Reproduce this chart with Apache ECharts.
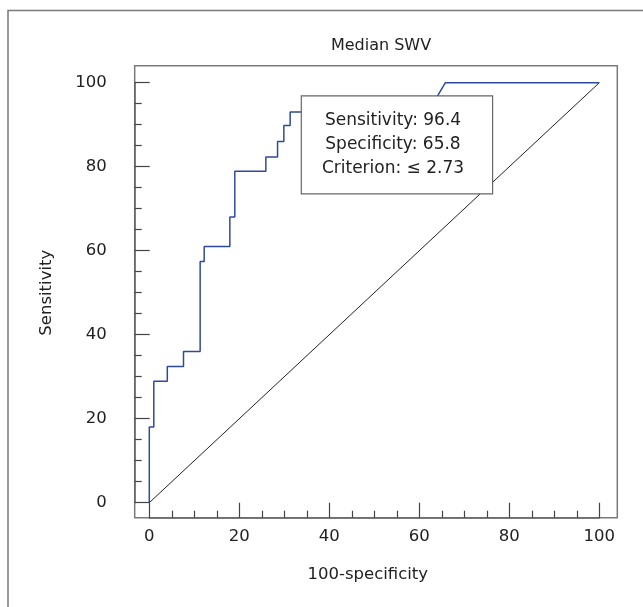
<!DOCTYPE html>
<html>
<head>
<meta charset="utf-8">
<script src="https://cdn.jsdelivr.net/npm/echarts@6/dist/echarts.min.js"></script>
<style>
  html, body { margin: 0; padding: 0; background: #fff; }
  #roc { width: 643px; height: 607px; }
</style>
</head>
<body>
<div id="roc"></div>
<script>
// ROC curve, median SWV
var fprPts  = [0, 0, 1.0, 1.0, 4.0, 4.0, 7.6, 7.6, 11.3, 11.3, 12.2, 12.2, 17.9, 17.9, 19.0, 19.0, 25.9, 25.9, 28.5, 28.5, 29.9, 29.9, 31.3, 31.3, 34.2, 34.2, 63.8, 65.8, 100];
var sensPts = [0, 18.0, 18.0, 28.9, 28.9, 32.4, 32.4, 36.0, 36.0, 57.4, 57.4, 61.0, 61.0, 68.0, 68.0, 78.9, 78.9, 82.3, 82.3, 86.0, 86.0, 89.8, 89.8, 93.0, 93.0, 96.4, 96.4, 100, 100];
var diagX = [0, 100];
var diagY = [0, 100];
var boxLines = ['Sensitivity: 96.4', 'Specificity: 65.8', 'Criterion: \u2264 2.73'];

var font = '"DejaVu Sans", sans-serif';

var curve = fprPts.map(function (x, i) { return [x, sensPts[i]]; });
var diag = diagX.map(function (x, i) { return [x, diagY[i]]; });

var chart = echarts.init(document.getElementById('roc'));

var axisCommon = {
  axisLine: { show: true, onZero: false, lineStyle: { color: '#666', width: 1.5 } },
  axisTick: { show: true, inside: true, length: 15, lineStyle: { color: '#444', width: 1.2 } },
  minorTick: { show: true, splitNumber: 4, length: 7, lineStyle: { color: '#444', width: 1.2 } },
  splitLine: { show: false }
};

var option = {
  backgroundColor: '#fff',
  animation: false,
  title: {
    text: 'Median SWV',
    left: 376,
    top: 33,
    textAlign: 'center',
    textStyle: { fontFamily: font, fontSize: 16, fontWeight: 'normal', color: '#222' }
  },
  grid: [
    // frame
    { left: 134.7, top: 65.7, right: 25.7, bottom: 89.3, show: true, borderColor: '#7a7a7a', borderWidth: 1.5, backgroundColor: 'transparent' },
    // data area
    { left: 149.3, top: 82.7, right: 43.7, bottom: 104.3 }
  ],
  xAxis: [
    { gridIndex: 0, type: 'value', show: false, min: 0, max: 1 },
    Object.assign({
      gridIndex: 1, type: 'value', min: 0, max: 100, interval: 20,
      position: 'bottom', offset: 15,
      name: '100-specificity', nameLocation: 'middle', nameGap: 49,
      nameTextStyle: { fontFamily: font, fontSize: 16.5, color: '#222', padding: [0, 13, 0, 0] },
      axisLabel: { margin: 11, fontFamily: font, fontSize: 16.5, color: '#222' }
    }, axisCommon)
  ],
  yAxis: [
    { gridIndex: 0, type: 'value', show: false, min: 0, max: 1 },
    Object.assign({
      gridIndex: 1, type: 'value', min: 0, max: 100, interval: 20,
      position: 'left', offset: 14.6,
      name: 'Sensitivity', nameLocation: 'middle', nameGap: 79,
      nameTextStyle: { fontFamily: font, fontSize: 16.5, color: '#222' },
      axisLabel: { margin: 28, fontFamily: font, fontSize: 16.5, color: '#222' }
    }, axisCommon)
  ],
  series: [
    {
      name: 'reference', type: 'line', xAxisIndex: 1, yAxisIndex: 1,
      data: diag, showSymbol: false, symbol: 'none',
      lineStyle: { color: '#222', width: 1 }, z: 2
    },
    {
      name: 'ROC', type: 'line', xAxisIndex: 1, yAxisIndex: 1,
      data: curve, showSymbol: false, symbol: 'none',
      lineStyle: { color: '#2f4a9c', width: 1.5 }, z: 3
    }
  ],
  graphic: [
    {
      type: 'polyline', silent: true, z: 1,
      shape: { points: [[8, 607], [8, 10.5], [643, 10.5]] },
      style: { stroke: '#7a7a7a', lineWidth: 1.5, fill: null }
    },
    {
      type: 'rect', left: 300.7, top: 95.3, z: 100,
      shape: { width: 191.3, height: 98 },
      style: { fill: '#fff', stroke: '#666', lineWidth: 1.2 }
    },
    {
      type: 'text', x: 393, y: 144.5, z: 101,
      style: {
        text: boxLines.join('\n'),
        font: '17px ' + font,
        fill: '#222',
        align: 'center',
        verticalAlign: 'middle',
        lineHeight: 24
      }
    }
  ]
};

chart.setOption(option);
</script>
</body>
</html>
